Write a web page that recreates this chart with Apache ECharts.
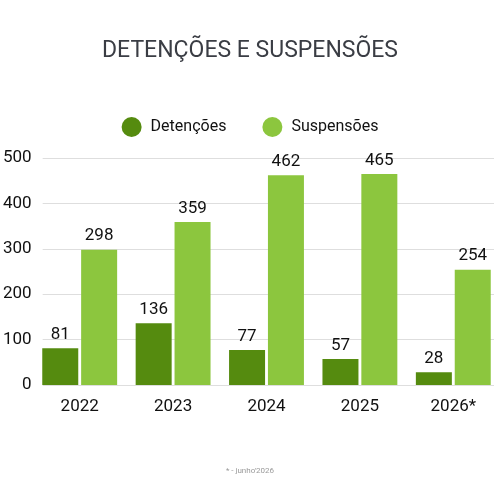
<!DOCTYPE html>
<html>
<head>
<meta charset="utf-8">
<script src="https://cdn.jsdelivr.net/npm/echarts@6/dist/echarts.min.js"></script>
<style>
  html, body { margin: 0; padding: 0; background: #fff; }
  #chart { width: 500px; height: 500px; }
</style>
</head>
<body>
<div id="chart"></div>
<script>
var years = ['2022', '2023', '2024', '2025', '2026*'];
var detencoes = [81, 136, 77, 57, 28];
var suspensoes = [298, 359, 462, 465, 254];
var yTicks = [0, 100, 200, 300, 400, 500];

var font = '"Roboto", "Liberation Sans", sans-serif';
var dot = 'path://M50,0A50,50,0,1,1,50,100A50,50,0,1,1,50,0Z';
var chart = echarts.init(document.getElementById('chart'));

var valueLabel = { show: true, position: 'top', fontFamily: font, fontSize: 17, color: '#111', distance: 5 };

chart.setOption({
    backgroundColor: '#fff',
    textStyle: { fontFamily: font },
    title: [{
        text: 'DETENÇÕES E SUSPENSÕES',
        left: 'center',
        top: 35,
        textStyle: { fontFamily: font, fontSize: 23, fontWeight: 'normal', color: '#3a3d44' }
    }, {
        text: "* - junho'2026",
        left: 'center',
        top: 462,
        textStyle: { fontFamily: font, fontSize: 8, fontWeight: 'normal', color: '#9a9a9a' }
    }],
    legend: {
        top: 112,
        left: 'center',
        itemGap: 36,
        itemWidth: 20,
        itemHeight: 20,
        icon: dot,
        textStyle: { fontFamily: font, fontSize: 16, color: '#111', padding: [0, 0, 0, 4] },
        data: ['Detenções', 'Suspensões']
    },
    grid: [
        { left: 40, right: 6, top: 158, bottom: 115 },   // gridlines + y labels
        { left: 33, right: -4, top: 158, bottom: 115 }   // bars
    ],
    xAxis: [{
        gridIndex: 0,
        type: 'category',
        data: years,
        show: false
    }, {
        gridIndex: 1,
        type: 'category',
        data: years,
        axisLine: { show: false },
        axisTick: { show: false },
        axisLabel: { fontFamily: font, fontSize: 17, color: '#111', margin: 13 }
    }],
    yAxis: [{
        gridIndex: 0,
        type: 'value',
        min: yTicks[0],
        max: yTicks[yTicks.length - 1],
        interval: 100,
        axisLabel: { fontFamily: font, fontSize: 17, color: '#111', margin: 11 },
        splitLine: { lineStyle: { color: '#dedede', width: 1 } }
    }, {
        gridIndex: 1,
        type: 'value',
        min: yTicks[0],
        max: yTicks[yTicks.length - 1],
        interval: 100,
        show: false,
        splitLine: { show: false }
    }],
    series: [{
        name: 'Detenções',
        type: 'bar',
        xAxisIndex: 1,
        yAxisIndex: 1,
        data: detencoes,
        barWidth: 36,
        barGap: '8%',
        itemStyle: { color: '#558b0f' },
        label: valueLabel
    }, {
        name: 'Suspensões',
        type: 'bar',
        xAxisIndex: 1,
        yAxisIndex: 1,
        data: suspensoes,
        barWidth: 36,
        itemStyle: { color: '#8cc63e' },
        label: valueLabel
    }]
});
</script>
</body>
</html>
